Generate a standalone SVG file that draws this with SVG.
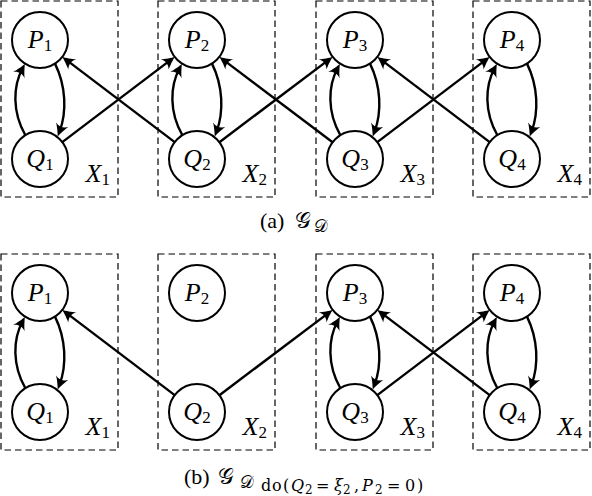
<svg xmlns="http://www.w3.org/2000/svg" width="592" height="496" viewBox="0 0 592 496">
<style>
.box{fill:none;stroke:#000;stroke-width:1.2;stroke-dasharray:6.5 4}
.node circle{fill:#fff;stroke:#000;stroke-width:2}
.edge{fill:none;stroke:#000;stroke-width:2.4;marker-end:url(#ah)}
text{font-family:"Liberation Serif","DejaVu Serif",serif;fill:#000}
.lbl{font-size:26px;font-style:italic;text-anchor:middle}
.xl{font-size:26px;font-style:italic;text-anchor:end}
.sub{font-size:17px;font-style:normal}
.cap{font-size:22px}
.scr{font-family:"DejaVu Sans","Noto Sans",sans-serif;font-style:normal}
.ss{font-family:"DejaVu Serif",serif;font-size:16px}
.ss2{font-family:"DejaVu Serif",serif;font-size:12px}
.it{font-style:italic}
</style>
<defs>
<marker id="ah" markerUnits="userSpaceOnUse" viewBox="-10 -10 20 20" markerWidth="20" markerHeight="20" refX="0" refY="0" orient="auto" overflow="visible">
<path d="M5,0 C2,-1.2 -4,-4 -7.5,-6.5 C-4.5,-2.5 -4.5,2.5 -7.5,6.5 C-4,4 2,1.2 5,0Z" fill="#000"/>
</marker>
</defs>

<g id="boxes">
<rect class="box" x="1" y="1" width="117" height="196"/>
<rect class="box" x="158" y="1" width="117" height="196"/>
<rect class="box" x="316" y="1" width="117" height="196"/>
<rect class="box" x="473" y="1" width="117" height="196"/>
<rect class="box" x="1" y="254" width="117" height="196"/>
<rect class="box" x="158" y="254" width="117" height="196"/>
<rect class="box" x="316" y="254" width="117" height="196"/>
<rect class="box" x="473" y="254" width="117" height="196"/>
</g>

<g id="connectors">
<path class="edge" d="M25.5,135.5 C12,112 13,86 22.5,68.5"/>
<path class="edge" d="M55,63.6 C66,86 67,112 59.5,131.8"/>
<path class="edge" d="M182.5,135.5 C169,112 170,86 179.5,68.5"/>
<path class="edge" d="M212,63.6 C223,86 224,112 216.5,131.8"/>
<path class="edge" d="M340.5,135.5 C327,112 328,86 337.5,68.5"/>
<path class="edge" d="M370,63.6 C381,86 382,112 374.5,131.8"/>
<path class="edge" d="M497.5,135.5 C484,112 485,86 494.5,68.5"/>
<path class="edge" d="M527,63.6 C538,86 539,112 531.5,131.8"/>
<path class="edge" d="M62.3,142.1 L170.7,59.9"/>
<path class="edge" d="M174.7,142.1 L66.3,59.9"/>
<path class="edge" d="M219.4,142.2 L328.6,59.9"/>
<path class="edge" d="M332.6,142.2 L223.4,59.9"/>
<path class="edge" d="M377.3,142.1 L485.7,59.9"/>
<path class="edge" d="M489.7,142.1 L381.3,59.9"/>
<path class="edge" d="M25.5,388.5 C12,365 13,339 22.5,321.5"/>
<path class="edge" d="M55,316.6 C66,339 67,365 59.5,384.8"/>
<path class="edge" d="M340.5,388.5 C327,365 328,339 337.5,321.5"/>
<path class="edge" d="M370,316.6 C381,339 382,365 374.5,384.8"/>
<path class="edge" d="M497.5,388.5 C484,365 485,339 494.5,321.5"/>
<path class="edge" d="M527,316.6 C538,339 539,365 531.5,384.8"/>
<path class="edge" d="M174.7,395.1 L66.3,312.9"/>
<path class="edge" d="M219.4,395.2 L328.6,312.9"/>
<path class="edge" d="M377.3,395.1 L485.7,312.9"/>
<path class="edge" d="M489.7,395.1 L381.3,312.9"/>
</g>

<g id="P1a" class="node"><circle cx="40" cy="40" r="28"/><text class="lbl" x="40" y="48">P<tspan class="sub" dy="3">1</tspan></text></g>
<g id="Q1a" class="node"><circle cx="40" cy="159" r="28"/><text class="lbl" x="40" y="167">Q<tspan class="sub" dy="3">1</tspan></text></g>
<g id="P2a" class="node"><circle cx="197" cy="40" r="28"/><text class="lbl" x="197" y="48">P<tspan class="sub" dy="3">2</tspan></text></g>
<g id="Q2a" class="node"><circle cx="197" cy="159" r="28"/><text class="lbl" x="197" y="167">Q<tspan class="sub" dy="3">2</tspan></text></g>
<g id="P3a" class="node"><circle cx="355" cy="40" r="28"/><text class="lbl" x="355" y="48">P<tspan class="sub" dy="3">3</tspan></text></g>
<g id="Q3a" class="node"><circle cx="355" cy="159" r="28"/><text class="lbl" x="355" y="167">Q<tspan class="sub" dy="3">3</tspan></text></g>
<g id="P4a" class="node"><circle cx="512" cy="40" r="28"/><text class="lbl" x="512" y="48">P<tspan class="sub" dy="3">4</tspan></text></g>
<g id="Q4a" class="node"><circle cx="512" cy="159" r="28"/><text class="lbl" x="512" y="167">Q<tspan class="sub" dy="3">4</tspan></text></g>

<g id="P1b" class="node"><circle cx="40" cy="293" r="28"/><text class="lbl" x="40" y="301">P<tspan class="sub" dy="3">1</tspan></text></g>
<g id="Q1b" class="node"><circle cx="40" cy="412" r="28"/><text class="lbl" x="40" y="420">Q<tspan class="sub" dy="3">1</tspan></text></g>
<g id="P2b" class="node"><circle cx="197" cy="293" r="28"/><text class="lbl" x="197" y="301">P<tspan class="sub" dy="3">2</tspan></text></g>
<g id="Q2b" class="node"><circle cx="197" cy="412" r="28"/><text class="lbl" x="197" y="420">Q<tspan class="sub" dy="3">2</tspan></text></g>
<g id="P3b" class="node"><circle cx="355" cy="293" r="28"/><text class="lbl" x="355" y="301">P<tspan class="sub" dy="3">3</tspan></text></g>
<g id="Q3b" class="node"><circle cx="355" cy="412" r="28"/><text class="lbl" x="355" y="420">Q<tspan class="sub" dy="3">3</tspan></text></g>
<g id="P4b" class="node"><circle cx="512" cy="293" r="28"/><text class="lbl" x="512" y="301">P<tspan class="sub" dy="3">4</tspan></text></g>
<g id="Q4b" class="node"><circle cx="512" cy="412" r="28"/><text class="lbl" x="512" y="420">Q<tspan class="sub" dy="3">4</tspan></text></g>

<g id="boxlabels">
<text class="xl" x="110" y="182">X<tspan class="sub" dy="3">1</tspan></text>
<text class="xl" x="267" y="182">X<tspan class="sub" dy="3">2</tspan></text>
<text class="xl" x="425" y="182">X<tspan class="sub" dy="3">3</tspan></text>
<text class="xl" x="582" y="182">X<tspan class="sub" dy="3">4</tspan></text>
<text class="xl" x="110" y="435">X<tspan class="sub" dy="3">1</tspan></text>
<text class="xl" x="267" y="435">X<tspan class="sub" dy="3">2</tspan></text>
<text class="xl" x="425" y="435">X<tspan class="sub" dy="3">3</tspan></text>
<text class="xl" x="582" y="435">X<tspan class="sub" dy="3">4</tspan></text>
</g>

<g id="captions">
<text class="cap" x="260" y="228">(a)</text>
<text class="cap scr" font-size="24" x="295" y="228">𝒢</text>
<text class="scr" font-size="17" x="314" y="232">𝒟</text>

<text class="cap" x="184" y="484">(b)</text>
<text class="cap scr" font-size="24" x="218" y="484">𝒢</text>
<text class="scr" font-size="17" x="240" y="488">𝒟</text>
<text class="ss" x="261 272 283" y="491">do(</text>
<text class="ss it" x="291" y="491">Q</text>
<text class="ss2" x="305" y="494">2</text>
<text class="ss" x="316" y="491">=</text>
<text class="ss it" x="334" y="491">ξ</text>
<text class="ss2" x="343" y="494">2</text>
<text class="ss" x="354" y="491">,</text>
<text class="ss it" x="362" y="491">P</text>
<text class="ss2" x="375" y="494">2</text>
<text class="ss" x="387 405 417" y="491">=0)</text>
</g>
</svg>
